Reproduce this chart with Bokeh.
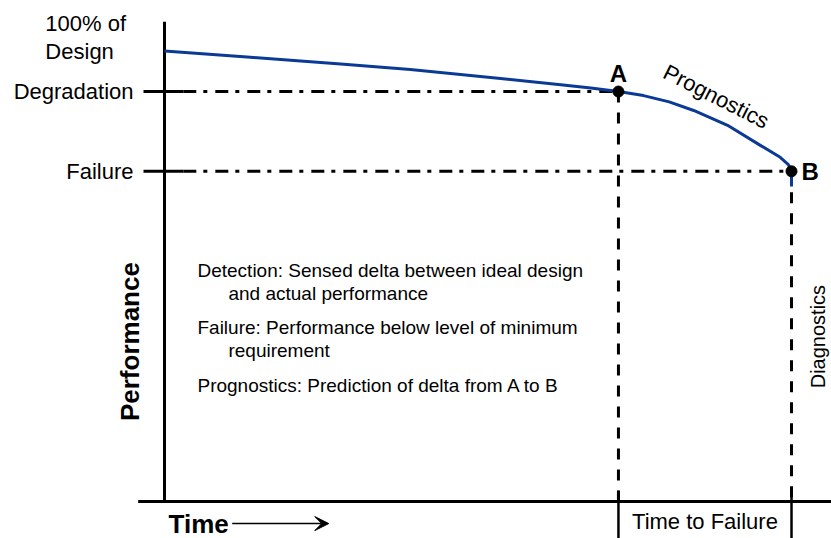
import math
from bokeh.plotting import figure
from bokeh.models import Range1d, Arrow, VeeHead
from bokeh.core.properties import value
from bokeh.embed import file_html
from bokeh.resources import INLINE

# ---------------- data (time units: 0 = start, 100 = failure point B;
#                  performance units: 0 = axis bottom, 100 = design) -----
time_vals = [0.0, 13.7, 28.1, 39.2, 53.6, 63.2, 68.0, 72.4, 76.4, 80.5, 84.4, 89.8, 95.1, 98.2, 99.5, 100.0, 100.0]
perf_vals = [100.0, 98.6, 97.1, 95.9, 93.9, 92.5, 91.8, 91.0, 90.1, 88.7, 86.8, 83.5, 79.0, 76.4, 74.8, 73.3, 69.9]

level_names = ["Degradation", "Failure"]
level_vals = [91.0, 73.3]

point_names = ["A", "B"]
point_time = [72.4, 100.0]
point_perf = [91.0, 73.3]

notes = [
    "Detection: Sensed delta between ideal design",
    "and actual performance",
    "Failure: Performance below level of minimum",
    "requirement",
    "Prognostics: Prediction of delta from A to B",
]
note_indent = [False, True, False, True, False]

FONT = value("Liberation Sans")
BLUE = "#0a3a96"

W, H = 831, 538
p = figure(width=W, height=H, output_backend="svg", toolbar_location=None,
           x_range=Range1d(-164 / 6.27, (W - 164) / 6.27),
           y_range=Range1d((501 - H) / 4.505, 501 / 4.505),
           x_axis_location=None, y_axis_location=None, min_border=0)
p.grid.visible = False
p.outline_line_color = None
p.background_fill_color = "white"
p.border_fill_color = "white"

# axes
p.line([0, 0], [0, 106.5], line_color="black", line_width=3)
p.line([-4.2, 120], [0, 0], line_color="black", line_width=3)

tA, tB = point_time
pA, pB = point_perf

# level ticks + dash-dot guides
for lv, tend in zip(level_vals, [tA, tB]):
    p.line([-3.35, 3.0], [lv, lv], line_color="black", line_width=3)
    p.line([3.0, tend], [lv, lv], line_color="black", line_width=3, line_dash="13 7 4 8")

# vertical dashed lines from A and B down
for t, pv in zip(point_time, point_perf):
    p.line([t, t], [pv, 0], line_color="black", line_width=3, line_dash="11 10")
    p.line([t, t], [2.4, -9], line_color="black", line_width=2.5)

# curve
p.line(time_vals, perf_vals, line_color=BLUE, line_width=3, line_join="round")

# points
p.scatter(point_time, point_perf, size=11, color="black")

# level labels
p.text(x=[-4.94] * 2, y=level_vals, text=level_names, text_align="right",
       text_baseline="middle", text_font=FONT, text_font_size="22px", text_color="black")
p.text(x=[-19.0, -19.0], y=[106.1, 100.0], text=["100% of", "Design"], text_align="left",
       text_baseline="middle", text_font=FONT, text_font_size="22px", text_color="black")

# point labels
p.text(x=[tA], y=[pA], text=["A"], text_align="center", text_baseline="middle", y_offset=-18,
       text_font=FONT, text_font_size="24px", text_font_style="bold", text_color="black")
p.text(x=[tB], y=[pB], text=["B"], text_align="left", text_baseline="middle", x_offset=10,
       text_font=FONT, text_font_size="24px", text_font_style="bold", text_color="black")

# Prognostics along curve
p.text(x=[88.0], y=[89.9], text=["Prognostics"], angle=-0.47, text_align="center",
       text_baseline="middle", text_font=FONT, text_font_size="22px", text_color="black")

# Performance label
p.text(x=[-5.58], y=[35.5], text=["Performance"], angle=math.pi / 2, text_align="center",
       text_baseline="middle", text_font=FONT, text_font_size="26px", text_font_style="bold",
       text_color="black")

# Diagnostics label
p.text(x=[104.2], y=[36.6], text=["Diagnostics"], angle=math.pi / 2, text_align="center",
       text_baseline="middle", text_font=FONT, text_font_size="20px", text_color="black")

# notes
note_y = [51.3, 46.2, 38.6, 33.5, 25.7]
note_x = [10.2 if ind else 5.26 for ind in note_indent]
p.text(x=note_x, y=note_y, text=notes, text_align="left", text_baseline="middle",
       text_font=FONT, text_font_size="19px", text_color="black")

# Time label + arrow
p.text(x=[0.64], y=[-4.9], text=["Time"], text_align="left", text_baseline="middle",
       text_font=FONT, text_font_size="26px", text_font_style="bold", text_color="black")
p.add_layout(Arrow(x_start=10.8, y_start=-4.9, x_end=26.2, y_end=-4.9, line_width=1.5,
                   line_color="black",
                   end=VeeHead(size=14, fill_color="black", line_color="black")))

# Time to Failure
p.text(x=[(tA + tB) / 2], y=[-4.4], text=["Time to Failure"], text_align="center",
       text_baseline="middle", text_font=FONT, text_font_size="22px", text_color="black")

open("out.html", "w").write(file_html(p, INLINE))
